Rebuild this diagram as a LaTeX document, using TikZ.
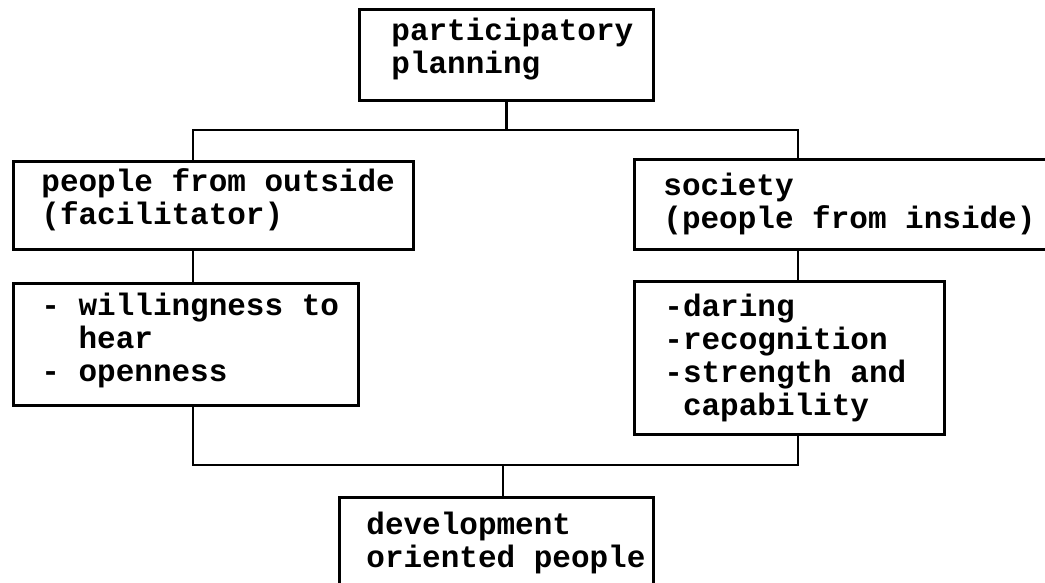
\documentclass[tikz,border=0pt]{standalone}
\usepackage{fontspec}
\setmonofont{Liberation Mono}
\newcommand\boxfont{\fontsize{31}{33}\selectfont\ttfamily\bfseries}

\begin{document}
\begin{tikzpicture}[x=1pt,y=-1pt,line width=2.8pt,
  box/.style={draw, anchor=north west, align=left, inner ysep=0pt, font=\boxfont,
    execute at begin node={\spaceskip=0.6em\xspaceskip=0.6em\relax}}]
  \useasboundingbox (0,0) rectangle (1045,583);
  \clip (0,0) rectangle (1045,583);
  % the boxes
  \node[box, inner xsep=32pt, text width=230pt, text height=31pt, text depth=60pt]
    (plan) at (358,8) {participatory\\planning};
  \node[box, inner xsep=28pt, text width=344pt, text height=30pt, text depth=58pt]
    (outside) at (12,160) {people~from~outside\\(facilitator)};
  \node[box, inner xsep=29pt, text width=400pt, text height=36pt, text depth=54pt]
    (society) at (633,158) {society\\(people from inside)};
  \node[box, inner xsep=28pt, text width=289pt, text height=32pt, text depth=90pt]
    (willing) at (12,282) {-~willingness~to\\~~hear\\-~openness};
  \node[box, inner xsep=30pt, text width=250pt, text height=35pt, text depth=118pt]
    (daring) at (633,280) {-daring\\-recognition\\-strength and\\~capability};
  \node[box, inner xsep=27pt, text width=260pt, text height=37pt, text depth=120pt]
    (develop) at (338,496) {development\\oriented~people};
  % the lines
  \coordinate (lx) at (193,0);
  \coordinate (rx) at (798,0);
  \coordinate (mx) at (503,0);
  \coordinate (bartop) at (0,130);
  \coordinate (barbot) at (0,465);
  \draw (plan.south) -- (plan.south |- bartop);
  \draw (lx |- outside.north) -- (lx |- bartop) -- (rx |- bartop) -- (rx |- society.north);
  \draw (lx |- outside.south) -- (lx |- willing.north);
  \draw (rx |- society.south) -- (rx |- daring.north);
  \draw (lx |- willing.south) -- (lx |- barbot) -- (rx |- barbot) -- (rx |- daring.south);
  \draw (mx |- barbot) -- (mx |- develop.north);
\end{tikzpicture}
\end{document}
